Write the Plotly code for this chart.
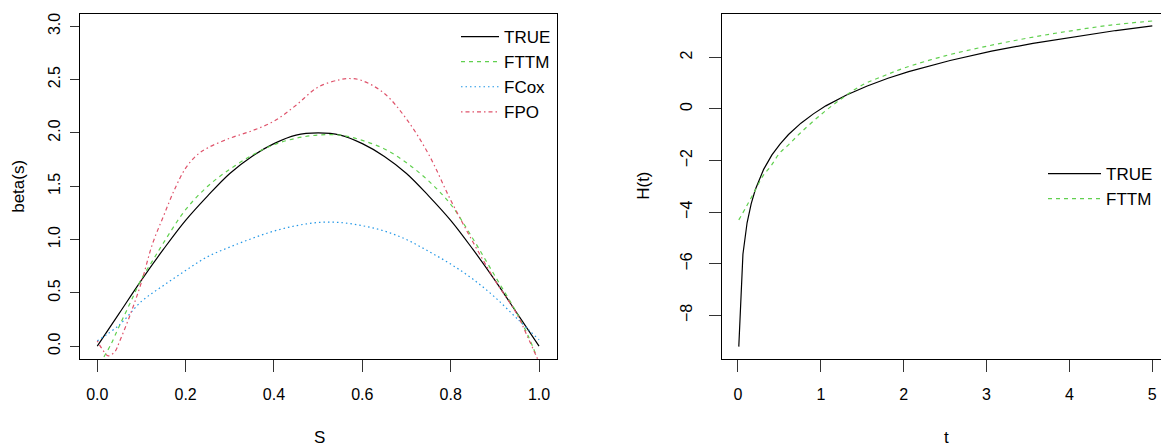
import plotly.graph_objects as go

# ---- left panel: coefficient function beta(s) ----
s_true = [0.0, 0.05, 0.1, 0.15, 0.2, 0.25, 0.3, 0.35, 0.4, 0.45, 0.5,
          0.55, 0.6, 0.65, 0.7, 0.75, 0.8, 0.85, 0.9, 0.95, 1.0]
beta_true = [0.0, 0.31, 0.62, 0.91, 1.18, 1.41, 1.62, 1.78, 1.90, 1.98, 2.00,
             1.98, 1.90, 1.78, 1.62, 1.41, 1.18, 0.91, 0.62, 0.31, 0.0]

s_fttm = [0.015, 0.03, 0.05, 0.075, 0.1, 0.125, 0.15, 0.2, 0.25, 0.3, 0.35, 0.4,
          0.45, 0.5, 0.55, 0.6, 0.65, 0.7, 0.75, 0.8, 0.85, 0.9, 0.95, 0.975, 0.995]
beta_fttm = [-0.10, 0.01, 0.19, 0.41, 0.63, 0.80, 0.97, 1.28, 1.50, 1.66, 1.79, 1.89,
             1.95, 1.98, 1.98, 1.93, 1.85, 1.72, 1.55, 1.33, 1.01, 0.66, 0.31, 0.10, -0.10]

s_fcox = [0.0, 0.05, 0.1, 0.15, 0.2, 0.25, 0.3, 0.35, 0.4, 0.45, 0.5,
          0.55, 0.6, 0.65, 0.7, 0.75, 0.8, 0.85, 0.9, 0.95, 1.0]
beta_fcox = [0.05, 0.20, 0.42, 0.57, 0.71, 0.84, 0.93, 1.01, 1.08, 1.13, 1.16,
             1.16, 1.13, 1.08, 1.00, 0.89, 0.77, 0.63, 0.46, 0.26, 0.06]

s_fpo = [0.0, 0.01, 0.025, 0.04, 0.05, 0.075, 0.1, 0.125, 0.15, 0.175, 0.2, 0.225,
         0.25, 0.3, 0.35, 0.4, 0.45, 0.5, 0.55, 0.575, 0.6, 0.65, 0.7, 0.75, 0.8,
         0.85, 0.9, 0.95, 0.975, 1.0]
beta_fpo = [0.05, -0.02, -0.09, -0.05, 0.04, 0.30, 0.60, 0.96, 1.22, 1.47, 1.67, 1.79,
            1.86, 1.95, 2.02, 2.11, 2.26, 2.43, 2.50, 2.51, 2.49, 2.37, 2.13, 1.80, 1.37,
            0.98, 0.62, 0.30, 0.08, -0.15]

# ---- right panel: cumulative baseline H(t) ----
t_true = [0.01, 0.06, 0.11, 0.16, 0.21, 0.26, 0.31, 0.41, 0.51, 0.61, 0.76, 0.91,
          1.06, 1.31, 1.56, 1.81, 2.06, 2.56, 3.06, 3.56, 4.06, 4.56, 5.0]
h_true = [-9.21, -5.63, -4.41, -3.67, -3.12, -2.69, -2.34, -1.78, -1.35, -0.99, -0.55, -0.19,
          0.12, 0.54, 0.89, 1.19, 1.45, 1.88, 2.24, 2.54, 2.80, 3.04, 3.22]

t_fttm = [0.01, 0.1, 0.2, 0.3, 0.4, 0.5, 0.6, 0.75, 1.0, 1.25, 1.5, 1.75, 2.0,
          2.5, 3.0, 3.5, 4.0, 4.5, 5.0]
h_fttm = [-4.30, -3.79, -3.20, -2.60, -2.20, -1.72, -1.42, -0.94, -0.22, 0.40, 0.93, 1.27, 1.58,
          2.06, 2.43, 2.75, 3.02, 3.25, 3.41]

left_ticks_x = [0.0, 0.2, 0.4, 0.6, 0.8, 1.0]
left_ticks_y = [0.0, 0.5, 1.0, 1.5, 2.0, 2.5, 3.0]
right_ticks_x = [0, 1, 2, 3, 4, 5]
right_ticks_y = [-8, -6, -4, -2, 0, 2]

BLACK = "black"
GREEN = "#61D04F"
BLUE = "#2297E6"
RED = "#DF536B"
FONT = "Liberation Sans, Arial, Helvetica, sans-serif"

W, H = 1161, 446

fig = go.Figure()

fig.add_trace(go.Scatter(x=s_true, y=beta_true, mode="lines", name="TRUE",
                         line=dict(color=BLACK, width=1.2, shape="spline"),
                         xaxis="x", yaxis="y", legend="legend"))
fig.add_trace(go.Scatter(x=s_fttm, y=beta_fttm, mode="lines", name="FTTM",
                         line=dict(color=GREEN, width=1.2, dash="4px,4px", shape="spline"),
                         xaxis="x", yaxis="y", legend="legend"))
fig.add_trace(go.Scatter(x=s_fcox, y=beta_fcox, mode="lines", name="FCox",
                         line=dict(color=BLUE, width=1.2, dash="1.5px,3px", shape="spline"),
                         xaxis="x", yaxis="y", legend="legend"))
fig.add_trace(go.Scatter(x=s_fpo, y=beta_fpo, mode="lines", name="FPO",
                         line=dict(color=RED, width=1.2, dash="1.5px,3px,4px,3px", shape="spline"),
                         xaxis="x", yaxis="y", legend="legend"))

fig.add_trace(go.Scatter(x=t_true, y=h_true, mode="lines", name="TRUE",
                         line=dict(color=BLACK, width=1.2),
                         xaxis="x2", yaxis="y2", legend="legend2"))
fig.add_trace(go.Scatter(x=t_fttm, y=h_fttm, mode="lines", name="FTTM",
                         line=dict(color=GREEN, width=1.2, dash="4px,4px", shape="spline"),
                         xaxis="x2", yaxis="y2", legend="legend2"))


def px_x(p):
    return p / W


def px_y(p):
    return 1 - p / H


ydom = [px_y(359), px_y(13.5)]
tickfont = dict(family=FONT, size=16, color="black")

common = dict(showgrid=False, zeroline=False, showline=True, linecolor="black",
              linewidth=1, ticks="outside", tickcolor="#333", tickwidth=1,
              tickfont=tickfont)

legend_font = dict(family=FONT, size=17, color="black")

fig.update_layout(
    width=W, height=H,
    margin=dict(l=0, r=0, t=0, b=0),
    paper_bgcolor="white", plot_bgcolor="white",
    font=dict(family=FONT, size=16, color="black"),
    xaxis=dict(domain=[px_x(79.6), px_x(556.7)], range=[-0.04, 1.04],
               tickvals=left_ticks_x, tickformat=".1f", mirror=True, ticklen=12,
               ticklabelstandoff=9, anchor="y", **common),
    yaxis=dict(domain=ydom, range=[-0.12, 3.12], tickvals=left_ticks_y,
               tickformat=".1f", mirror=True, ticklen=9, tickangle=-90,
               ticklabelstandoff=3, anchor="x", **common),
    xaxis2=dict(domain=[px_x(722.3), 1.0], range=[-0.189, 5.105],
                tickvals=right_ticks_x, mirror=True, ticklen=12,
                ticklabelstandoff=9, anchor="y2", **common),
    yaxis2=dict(domain=ydom, range=[-9.69, 3.70], tickvals=right_ticks_y,
                mirror=False, ticklen=12, tickangle=-90,
                ticklabelstandoff=11, anchor="x2", **common),
    legend=dict(x=px_x(456), y=px_y(19), xanchor="left", yanchor="top",
                bgcolor="rgba(0,0,0,0)", borderwidth=0, itemwidth=38,
                font=legend_font),
    legend2=dict(x=px_x(1043), y=px_y(156), xanchor="left", yanchor="top",
                 bgcolor="rgba(0,0,0,0)", borderwidth=0, itemwidth=53,
                 font=legend_font),
    showlegend=True,
)

title_font = dict(family=FONT, size=17, color="black")
fig.add_annotation(text="beta(s)", x=px_x(18.5), y=px_y(186.3), xref="paper", yref="paper",
                   textangle=-90, showarrow=False, font=title_font,
                   xanchor="center", yanchor="middle")
fig.add_annotation(text="S", x=px_x(319), y=px_y(437.5), xref="paper", yref="paper",
                   showarrow=False, font=title_font,
                   xanchor="center", yanchor="middle")
fig.add_annotation(text="H(t)", x=px_x(643.5), y=px_y(186.3), xref="paper", yref="paper",
                   textangle=-90, showarrow=False, font=title_font,
                   xanchor="center", yanchor="middle")
fig.add_annotation(text="t", x=px_x(946), y=px_y(437.5), xref="paper", yref="paper",
                   showarrow=False, font=title_font,
                   xanchor="center", yanchor="middle")

fig.write_html("out.html")
